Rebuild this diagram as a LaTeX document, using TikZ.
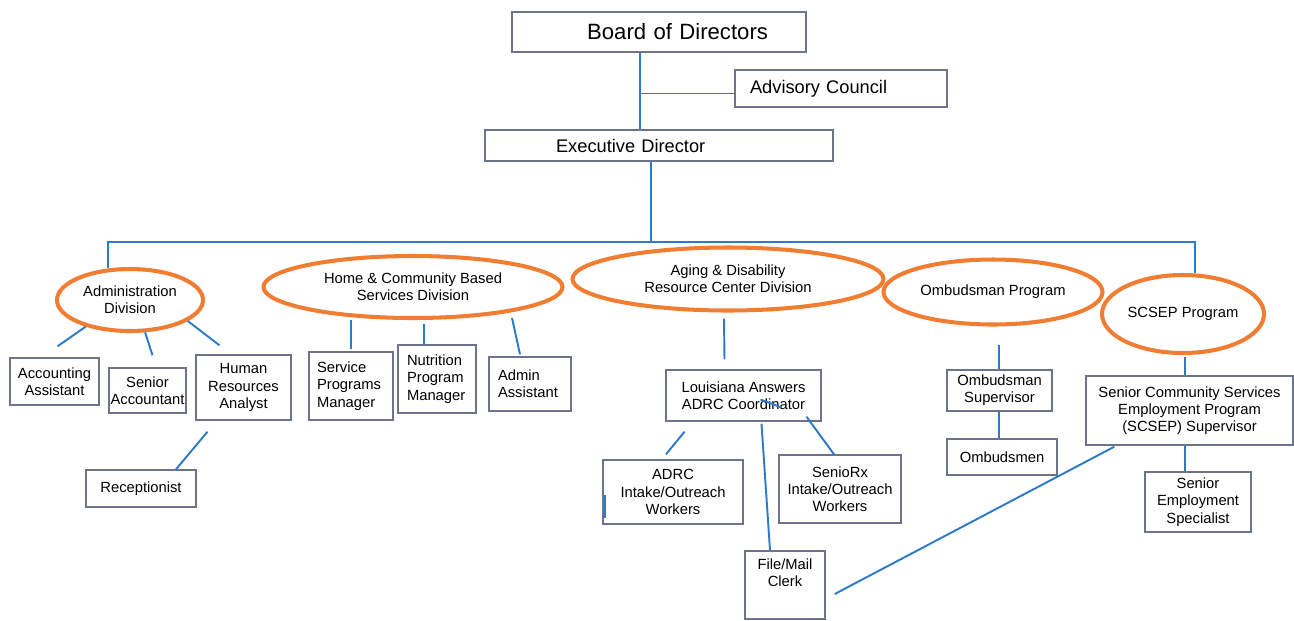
\documentclass[tikz,border=0pt]{standalone}
\usepackage{fontspec}
\setmainfont{Liberation Sans}
\usetikzlibrary{calc,shapes.geometric}
\definecolor{linkblue}{RGB}{45,122,200}
\definecolor{divorange}{RGB}{240,125,50}
\definecolor{boxgray}{RGB}{110,115,140}
\tikzset{
  wh/.style 2 args={minimum width=#1*0.02cm, minimum height=#2*0.02cm},
  box/.style={draw=boxgray, line width=0.8pt, inner sep=1pt, align=center, font=\fontsize{8.4}{9.8}\selectfont},
  txt/.style={inner sep=1pt, align=center, font=\fontsize{8.4}{9.8}\selectfont},
  div/.style={ellipse, draw=divorange, line width=2.3pt, inner sep=0pt, align=center, font=\fontsize{8.4}{9.8}\selectfont},
  link/.style={draw=linkblue, line width=1.1pt},
}

\begin{document}
\begin{tikzpicture}[x=0.02cm, y=-0.02cm]
			\useasboundingbox (0,0) rectangle (1294,620);

			%%%%% TOP %%%%%
			\node[box, wh={294}{40}, inner xsep=0.76cm, text width=4.36cm, align=right, font=\fontsize{12.6}{15}\selectfont] (board) at (659,32) {Board of Directors};
			\node[box, wh={212}{37}, inner xsep=0.3cm, text width=3.64cm, align=left, font=\fontsize{10.4}{12}\selectfont] (adv) at (841,88.5) {Advisory Council};
			\node[box, wh={348}{31}, inner xsep=1.42cm, text width=4.12cm, align=left, font=\fontsize{10.4}{12}\selectfont] (exec) at (659,145.5) {Executive Director};

			\draw[link] ($(board.south)+(-19,0)$) -- ($(exec.north)+(-19,0)$);
			\draw[link] ($(adv.west)+(0,5)$) -| ($(board.south)+(-19,0)$);

			%%%%% DIVISIONS %%%%%
			\node[div, wh={146}{62}] (adm) at (130,300) {Administration\\Division};
			\node[div, wh={299}{62}] (hcbs) at (413,287) {Home \& Community Based\\Services Division};
			\node[div, wh={311}{63}] (adrcdiv) at (728,279) {Aging \& Disability\\Resource Center Division};
			\node[div, wh={219}{65}] (omb) at (993,292) {Ombudsman Program};
			\node[div, wh={162}{78}] (scsep) at (1183,314) {SCSEP Program};

			\coordinate (bus) at ($(exec.south)+(-8,80)$);
			\draw[link] ($(exec.south)+(-8,0)$) -- (bus);
			\draw[link] (adm.125) -- (adm.125 |- bus) -- (scsep.73 |- bus) -- (scsep.73);

			%%%%% ADMINISTRATION %%%%%
			\node[box, wh={89}{47}] (acct) at (54.5,381.5) {Accounting\\Assistant};
			\node[box, wh={77}{45}] (sracc) at (147.5,390.5) {Senior\\Accountant};
			\node[box, wh={95}{65}] (hr) at (243.5,387.5) {Human\\Resources\\Analyst};
			\node[box, wh={110}{37}] (recep) at (141,488.5) {Receptionist};

			\draw[link] (adm.211) -- ($(acct.north)+(3,-11)$);
			\draw[link] (adm.295) -- ($(sracc.north)+(5,-12)$);
			\draw[link] (adm.340) -- ($(hr.north)+(-24,-9)$);
			\draw[link] ($(hr.south)+(-36,11)$) -- ($(recep.north)+(35,0)$);

			%%%%% HOME & COMMUNITY %%%%%
			\node[box, wh={84}{68}, align=left, text width=1.36cm, inner xsep=0.16cm] (spm) at (351,386) {Service\\Programs\\Manager};
			\node[box, wh={78}{68}, align=left, text width=1.2cm, inner xsep=0.18cm] (npm) at (437,379) {Nutrition\\Program\\Manager};
			\node[box, wh={82}{54}, align=left, text width=1.28cm, inner xsep=0.18cm] (aa) at (530,384) {Admin\\Assistant};

			\draw[link] (hcbs.south -| spm.north) -- ($(spm.north)+(0,-2)$);
			\draw[link] ($(hcbs.south -| npm.north)+(-13,4)$) -- ($(npm.north)+(-13,0)$);
			\draw[link] ($(hcbs.south)+(99,-2)$) -- ($(aa.north)+(-10,-2)$);

			%%%%% ADRC %%%%%
			\node[box, wh={155}{51}] (la) at (743.5,395.5) {Louisiana Answers\\ADRC Coordinator};
			\node[box, wh={140}{64}] (adrcw) at (673,492) {ADRC\\Intake/Outreach\\Workers};
			\node[box, wh={122}{68}] (senrx) at (840,489) {SenioRx\\Intake/Outreach\\Workers};
			\node[box, wh={80}{68}] (fmc) at (785,585) {};
			\node[txt, anchor=north] (fmct) at ($(fmc.north)+(0,6)$) {File/Mail\\Clerk};

			\draw[link] ($(adrcdiv.south)+(-4,6)$) -- ($(la.north)+(-19,-10)$);
			\draw[link] ($(la.south)+(-59,10)$) -- ($(adrcw.north)+(-7,-5)$);
			\draw[link] ($(la.south)+(18,2)$) -- ($(fmc.north)+(-15,0)$);
			\draw[link] ($(la.south)+(63,-5)$) -- ($(senrx.north)+(-6,0)$);
			\draw[link] ($(la.center)+(17,4)$) -- ($(la.center)+(38,12)$);
			\draw[link] ($(adrcw.west)+(3,3)$) -- ($(adrcw.west)+(3,26)$);

			%%%%% OMBUDSMAN %%%%%
			\node[box, wh={105}{41}] (osup) at (999.5,390.5) {Ombudsman\\Supervisor};
			\node[box, wh={110}{36}] (omen) at (1002,457) {Ombudsmen};

			\draw[link] ($(osup.north)+(-0.5,-24)$) -- ($(osup.north)+(-0.5,0)$);
			\draw[link] ($(osup.south)+(-0.5,0)$) -- ($(osup.south |- omen.north)+(-0.5,0)$);

			%%%%% SCSEP %%%%%
			\node[box, wh={207}{69}] (scsup) at (1189.5,410.5) {Senior Community Services\\Employment Program\\(SCSEP) Supervisor};
			\node[box, wh={106}{60}] (sespec) at (1198,502) {Senior\\Employment\\Specialist};

			\draw[link] ($(scsep.south)+(2,2)$) -- ($(scsep.south |- scsup.north)+(2,0)$);
			\draw[link] ($(scsup.south -| scsep.south)+(2,0)$) -- ($(sespec.north -| scsep.south)+(2,0)$);
			\draw[link] ($(scsup.south west)+(29,1)$) -- ($(fmc.east)+(9,9)$);

\end{tikzpicture}
\end{document}
